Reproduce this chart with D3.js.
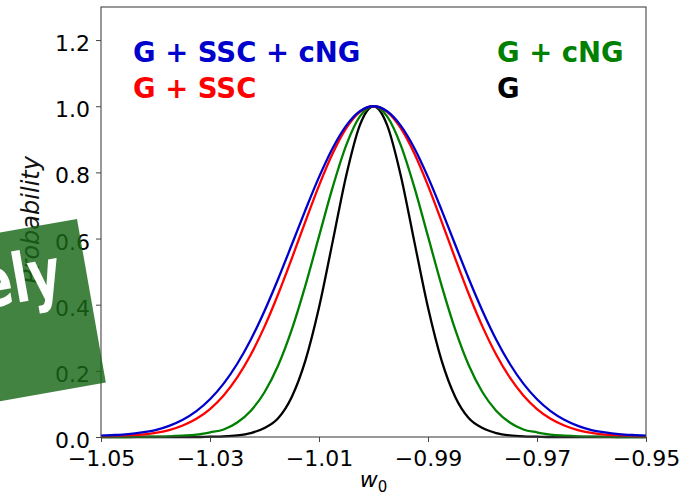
<!DOCTYPE html>
<html>
<head>
<meta charset="utf-8">
<script src="https://cdn.jsdelivr.net/npm/d3@7"></script>
<style>
  html, body { margin: 0; padding: 0; background: #fff; }
  svg { display: block; }
</style>
</head>
<body>
<svg id="chart" width="696" height="496"></svg>
<script>
// Posterior of w0 under four covariance choices, normalised to peak 1.
const w0Grid = [-1.05, -1.0475, -1.045, -1.0425, -1.04, -1.0375, -1.035, -1.0325, -1.03, -1.0275,
  -1.025, -1.0225, -1.02, -1.0175, -1.015, -1.0125, -1.01, -1.0075, -1.005, -1.0025,
  -1.0, -0.9975, -0.995, -0.9925, -0.99, -0.9875, -0.985, -0.9825, -0.98, -0.9775,
  -0.975, -0.9725, -0.97, -0.9675, -0.965, -0.9625, -0.96, -0.9575, -0.955, -0.9525, -0.95];

const probGSscCng = [0.004, 0.006, 0.009, 0.014, 0.0211, 0.0337, 0.0521, 0.0783, 0.1141, 0.1614,
  0.2215, 0.2950, 0.3812, 0.4778, 0.5813, 0.6861, 0.7857, 0.8732, 0.9415, 0.985,
  1.0,
  0.985, 0.9415, 0.8732, 0.7857, 0.6861, 0.5813, 0.4778, 0.3812, 0.2950, 0.2215,
  0.1614, 0.1141, 0.0783, 0.0521, 0.0337, 0.0211, 0.014, 0.009, 0.006, 0.004];

const probGSsc = [0.002, 0.003, 0.005, 0.0072, 0.0124, 0.0211, 0.0347, 0.0551, 0.0846, 0.1256,
  0.18, 0.2494, 0.3337, 0.4316, 0.5394, 0.6514, 0.76, 0.857, 0.9337, 0.983,
  1.0,
  0.983, 0.9337, 0.857, 0.76, 0.6514, 0.5394, 0.4316, 0.3337, 0.2494, 0.18,
  0.1256, 0.0846, 0.0551, 0.0347, 0.0211, 0.0124, 0.0072, 0.005, 0.003, 0.002];

const probGCng = [0, 0, 0, 0.0005, 0.001, 0.002, 0.004, 0.007, 0.014, 0.0228,
  0.0439, 0.0796, 0.1353, 0.2163, 0.3247, 0.4578, 0.6065, 0.7548, 0.8825, 0.9692,
  1.0,
  0.9692, 0.8825, 0.7548, 0.6065, 0.4578, 0.3247, 0.2163, 0.1353, 0.0796, 0.0439,
  0.0228, 0.014, 0.007, 0.004, 0.002, 0.001, 0.0005, 0, 0, 0];

const probG = [0, 0, 0, 0, 0, 0, 0, 0, 0.001, 0.002,
  0.005, 0.012, 0.027, 0.0565, 0.1211, 0.2309, 0.3913, 0.5899, 0.7909, 0.943,
  1.0,
  0.943, 0.7909, 0.5899, 0.3913, 0.2309, 0.1211, 0.0565, 0.027, 0.012, 0.005,
  0.002, 0.001, 0, 0, 0, 0, 0, 0, 0, 0];

const xTicks = [-1.05, -1.03, -1.01, -0.99, -0.97, -0.95];
const yTicks = [0.0, 0.2, 0.4, 0.6, 0.8, 1.0, 1.2];

const seriesNames = ["G", "G + cNG", "G + SSC", "G + SSC + cNG"];
const seriesColors = ["#000000", "#008000", "#ff0000", "#0000cc"];
const seriesValues = [probG, probGCng, probGSsc, probGSscCng];

const svg = d3.select("#chart");
const plot = { left: 101, right: 646, top: 7, bottom: 437 };

const x = d3.scaleLinear().domain([-1.05, -0.95]).range([plot.left, plot.right]);
const y = d3.scaleLinear().domain([0, 1.3]).range([plot.bottom, plot.top]);

const tickFont = "'DejaVu Sans', sans-serif";
const fmtX = v => d3.format(".2f")(v).replace("-", "\u2212");
const fmtY = d3.format(".1f");

// curves
const line = d3.line()
  .x((d, i) => x(w0Grid[i]))
  .y(d => y(d))
  .curve(d3.curveMonotoneX);

const curves = svg.append("g");
seriesValues.forEach((vals, k) => {
  curves.append("path")
    .datum(vals)
    .attr("d", line)
    .attr("fill", "none")
    .attr("stroke", seriesColors[k])
    .attr("stroke-width", 2.3)
    .attr("stroke-linejoin", "round");
});

// frame
svg.append("rect")
  .attr("x", plot.left).attr("y", plot.top)
  .attr("width", plot.right - plot.left).attr("height", plot.bottom - plot.top)
  .attr("fill", "none").attr("stroke", "#444").attr("stroke-width", 1.1);

// x axis
const xAxis = d3.axisBottom(x).tickValues(xTicks).tickFormat(fmtX)
  .tickSize(5).tickPadding(6);
const gx = svg.append("g").attr("transform", `translate(0,${plot.bottom})`).call(xAxis);
gx.select(".domain").remove();
gx.selectAll(".tick line").attr("stroke", "#444");
gx.selectAll(".tick text")
  .attr("font-family", tickFont).attr("font-size", 22).attr("fill", "#000")
  .attr("dy", null).attr("y", 28.5);

// y axis
const yAxis = d3.axisLeft(y).tickValues(yTicks).tickFormat(fmtY)
  .tickSize(5).tickPadding(6);
const gy = svg.append("g").attr("transform", `translate(${plot.left},0)`).call(yAxis);
gy.select(".domain").remove();
gy.selectAll(".tick line").attr("stroke", "#444");
gy.selectAll(".tick text")
  .attr("font-family", tickFont).attr("font-size", 22).attr("fill", "#000")
  .attr("dy", null).attr("y", 10.5).attr("x", -11);

// axis titles
const xt = svg.append("text")
  .attr("x", x(-1.0)).attr("y", 487)
  .attr("text-anchor", "middle")
  .attr("font-family", tickFont).attr("font-size", 22).attr("font-style", "italic");
xt.append("tspan").text("w");
xt.append("tspan").attr("font-size", 15).attr("font-style", "normal").attr("dy", 5).text("0");

svg.append("text")
  .attr("transform", `translate(39,${(plot.top + plot.bottom) / 2 - 2}) rotate(-90)`)
  .attr("text-anchor", "middle")
  .attr("font-family", tickFont).attr("font-size", 24).attr("font-style", "italic")
  .attr("fill", "#111")
  .text("Probability");

// series labels
const labelFont = "'DejaVu Sans', sans-serif";
const labels = [
  { name: seriesNames[3], color: seriesColors[3], x: 133, y: 62 },
  { name: seriesNames[2], color: seriesColors[2], x: 133, y: 98 },
  { name: seriesNames[1], color: seriesColors[1], x: 497, y: 62 },
  { name: seriesNames[0], color: seriesColors[0], x: 497, y: 98 }
];
svg.append("g").selectAll("text").data(labels).join("text")
  .attr("x", d => d.x).attr("y", d => d.y)
  .attr("font-family", labelFont).attr("font-weight", "bold").attr("font-size", 27.5)
  .attr("fill", d => d.color)
  .text(d => d.name);

// stamp badge
const badge = svg.append("g").attr("transform", "translate(77,219) rotate(-10)");
badge.append("rect")
  .attr("x", -260).attr("y", 0).attr("width", 260).attr("height", 166)
  .attr("fill", "rgba(24,104,24,0.82)");
badge.append("text")
  .attr("transform", "translate(-26,72) scale(0.72,1)")
  .attr("text-anchor", "end")
  .attr("font-family", labelFont).attr("font-weight", "bold").attr("font-size", 68)
  .attr("fill", "#fff")
  .text("ely");
</script>
</body>
</html>
